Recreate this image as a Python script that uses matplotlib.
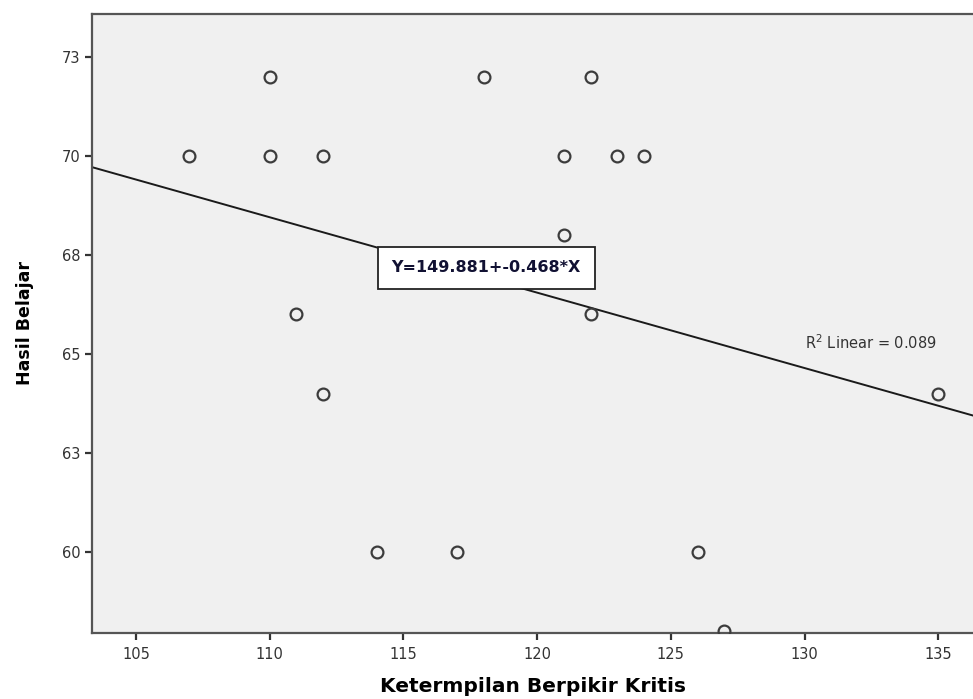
import matplotlib
matplotlib.use("Agg")
import matplotlib.pyplot as plt

plt.rcParams['font.family'] = ['DejaVu Sans']

# data
berpikir = [107, 110, 110, 112, 111, 112, 114, 117, 118, 121, 121, 122, 122, 123, 124, 126, 127, 135]
hasil = [70, 72, 70, 70, 66, 64, 60, 60, 72, 70, 68, 72, 66, 70, 70, 60, 58, 64]

# fitted line as drawn (visual estimate)
line_intercept = 89.41
line_slope = -0.1905

yticks = [72.5, 70, 67.5, 65, 62.5, 60]
ytick_labels = ["73", "70", "68", "65", "63", "60"]
xticks = [105, 110, 115, 120, 125, 130, 135]

fig = plt.figure(figsize=(9.73, 6.99), dpi=100)
ax = fig.add_axes([0.0946, 0.0944, 0.9054, 0.8856])
ax.set_facecolor("#f0f0f0")

xlo, xhi = 103.36, 136.3
ax.set_xlim(xlo, xhi)
ax.set_ylim(57.95, 73.59)

ax.plot([xlo, xhi], [line_intercept + line_slope * xlo, line_intercept + line_slope * xhi],
        color="#1a1a1a", lw=1.4, zorder=2)
ax.plot(berpikir, hasil, "o", mfc="none", mec="#3c3c3c", mew=1.6, ms=8.5, zorder=5, clip_on=True)

ax.set_xticks(xticks)
ax.set_yticks(yticks)
ax.set_yticklabels(ytick_labels)
ax.tick_params(colors="#333333", labelsize=10.5, length=5, width=1.6)
ax.tick_params(axis="x", pad=5)

for s in ["left", "bottom", "top"]:
    ax.spines[s].set_color("#555555")
    ax.spines[s].set_linewidth(1.6)
ax.spines["right"].set_visible(False)

ax.set_xlabel("Ketermpilan Berpikir Kritis", fontsize=14.5, fontweight="bold", labelpad=11)
ax.set_ylabel("Hasil Belajar", fontsize=12.5, fontweight="bold", labelpad=20)

ax.text(118.1, 67.18, "Y=149.881+-0.468*X", fontsize=11.5, fontweight="bold", color="#111133",
        ha="center", va="center", zorder=4,
        bbox=dict(boxstyle="square,pad=0.85", fc="white", ec="#222222", lw=1.3))
ax.text(130.0, 65.28, "R$^2$ Linear = 0.089", fontsize=10.5, color="#333333", ha="left", va="center")

fig.savefig("out.png", dpi=100)
